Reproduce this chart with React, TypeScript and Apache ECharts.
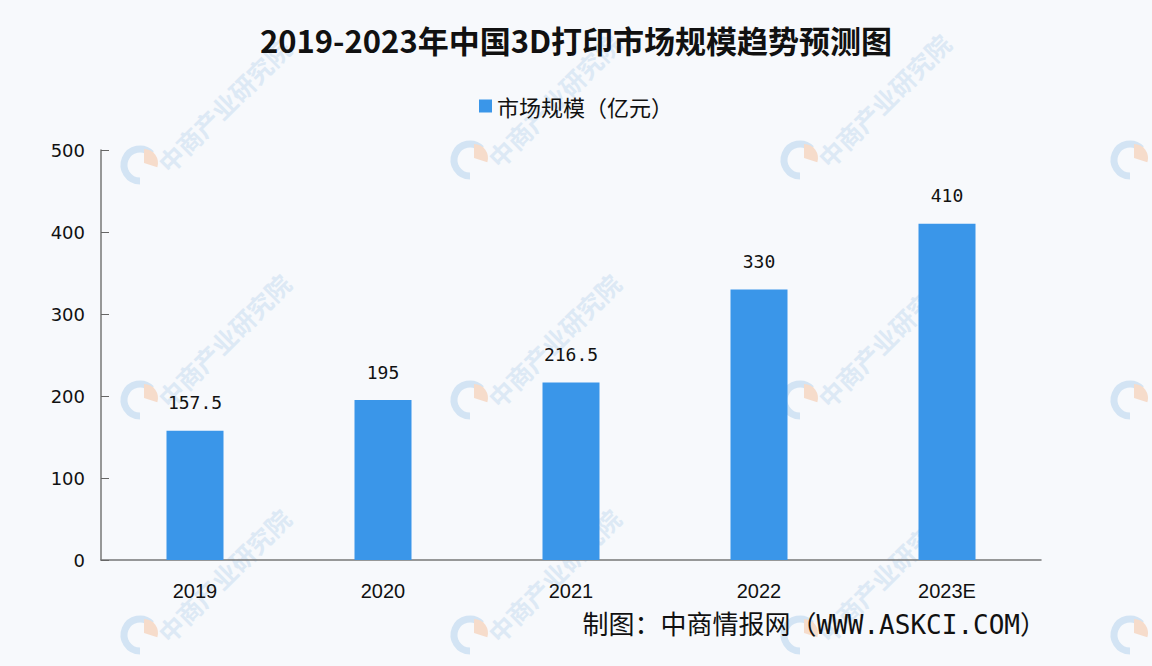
import React, { useEffect, useRef } from "react";
import * as echarts from "echarts";

const title = "2019-2023年中国3D打印市场规模趋势预测图";
const seriesName = "市场规模（亿元）";
const categories = ["2019", "2020", "2021", "2022", "2023E"];
const values = [157.5, 195, 216.5, 330, 410];
const yTicks = [0, 100, 200, 300, 400, 500];
const footer = "制图：中商情报网（WWW.ASKCI.COM）";
const watermarkText = "中商产业研究院";
const watermarkSpots = [
  [140, 165, 1], [470, 160, 1], [800, 160, 1], [1130, 160, 0],
  [140, 400, 1], [470, 400, 1], [800, 400, 1], [1130, 400, 0],
  [140, 635, 1], [470, 635, 1], [800, 635, 1], [1130, 635, 0],
];

export default function App() {
  const ref = useRef<HTMLDivElement>(null);
  useEffect(() => {
    if (!ref.current) return;
    const chart = echarts.init(ref.current, undefined, { renderer: "svg" });
    const wm: any[] = [];
    watermarkSpots.forEach(([x, y, withText]) => {
      wm.push({
        type: "arc",
        z: -10,
        shape: { cx: x, cy: y, r: 16, startAngle: Math.PI * 0.5, endAngle: Math.PI * 1.75 },
        style: { stroke: "#d3e4f4", lineWidth: 7, fill: "none" },
        silent: true,
      });
      wm.push({
        type: "sector",
        z: -10,
        shape: { cx: x + 4, cy: y - 2, r0: 0, r: 14, startAngle: -Math.PI * 0.5, endAngle: Math.PI * 0.1 },
        style: { fill: "#f6dccb" },
        silent: true,
      });
      if (withText) {
        wm.push({
          type: "text",
          z: -10,
          x: x + 22,
          y: y + 2,
          rotation: Math.PI / 4,
          style: {
            text: watermarkText,
            font: "bold 25px 'Noto Sans CJK SC'",
            fill: "#dde9f5",
            textVerticalAlign: "middle",
          },
          silent: true,
        });
      }
    });
    chart.setOption({
      animation: false,
      backgroundColor: "#f7f9fc",
      title: {
        text: title,
        left: "center",
        top: 19,
        textStyle: {
          fontFamily: "'Noto Sans CJK SC'",
          fontWeight: "bold",
          fontSize: 31,
          color: "#111",
        },
      },
      legend: {
        top: 90,
        left: "center",
        icon: "rect",
        itemWidth: 13,
        itemHeight: 13,
        itemGap: 10,
        textStyle: { fontFamily: "'Noto Sans CJK SC'", fontSize: 22, color: "#111" },
        data: [seriesName],
      },
      grid: { left: 101, right: 111, top: 150, bottom: 106 },
      xAxis: {
        type: "category",
        data: categories,
        axisLine: { lineStyle: { color: "#777", width: 1.5 } },
        axisTick: { inside: true, length: 7, lineStyle: { color: "#666" } },
        axisLabel: {
          margin: 21,
          fontFamily: "'Liberation Sans'",
          fontSize: 20,
          color: "#111",
        },
      },
      yAxis: {
        type: "value",
        min: 0,
        max: 500,
        interval: 100,
        axisLine: { show: true, lineStyle: { color: "#777", width: 1.5 } },
        axisTick: { show: true, inside: true, length: 8, lineStyle: { color: "#666" } },
        splitLine: { show: false },
        axisLabel: {
          margin: 16,
          fontFamily: "'DejaVu Sans'",
          fontSize: 18,
          color: "#111",
          formatter: (v: number) => (yTicks.includes(v) ? String(v) : ""),
        },
      },
      series: [
        {
          name: seriesName,
          type: "bar",
          data: values,
          barWidth: 57,
          itemStyle: { color: "#3a96e9" },
          label: {
            show: true,
            position: "top",
            distance: 19,
            fontFamily: "'DejaVu Sans Mono'",
            fontSize: 18,
            color: "#111",
          },
        },
      ],
      graphic: [
        ...wm,
        {
          type: "text",
          right: 106,
          top: 612,
          style: {
            text: footer,
            font: "26px 'DejaVu Sans Mono', 'Noto Sans CJK SC'",
            fill: "#111",
          },
        },
      ],
    });
    return () => chart.dispose();
  }, []);
  return (
    <div
      ref={ref}
      style={{ position: "absolute", left: 0, top: 0, width: 1152, height: 666 }}
    />
  );
}
